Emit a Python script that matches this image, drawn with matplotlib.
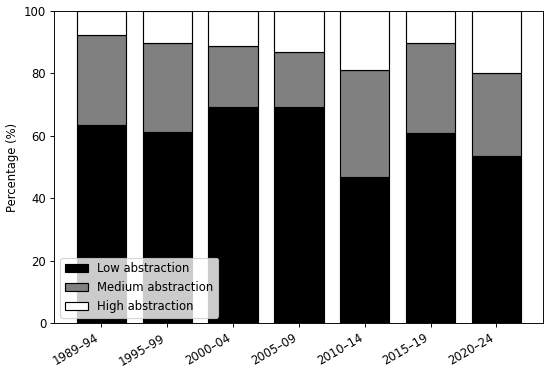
import matplotlib
matplotlib.use("Agg")
import matplotlib.pyplot as plt
import numpy as np

periods = ['1989–94', '1995–99', '2000–04', '2005–09', '2010–14', '2015–19', '2020–24']
low = [63.6, 61.2, 69.3, 69.3, 47.0, 60.9, 53.5]
medium = [28.8, 28.4, 19.4, 17.6, 34.2, 28.7, 26.8]
high = [7.6, 10.4, 11.3, 13.1, 18.8, 10.4, 19.7]

x = np.arange(len(periods))
low_arr = np.array(low)
med_arr = np.array(medium)

# bigger figure saved at a lower dpi so the text size matches the reference
fig, ax = plt.subplots(figsize=(6.6, 4.524), dpi=550 / 6.6)
ax.bar(x, low, width=0.75, color='black', edgecolor='black', label='Low abstraction')
ax.bar(x, medium, width=0.75, bottom=low_arr, color='grey', edgecolor='black', label='Medium abstraction')
ax.bar(x, high, width=0.75, bottom=low_arr + med_arr, color='white', edgecolor='black', label='High abstraction')

ax.set_ylim(0, 100)
ax.set_ylabel('Percentage (%)')
ax.set_xticks(x)
ax.set_xticklabels(periods, rotation=30, ha='right')
ax.legend(loc='lower left')

plt.subplots_adjust(left=0.099, right=0.988, top=0.971, bottom=0.142)
plt.savefig('out.png', dpi=550 / 6.6)
